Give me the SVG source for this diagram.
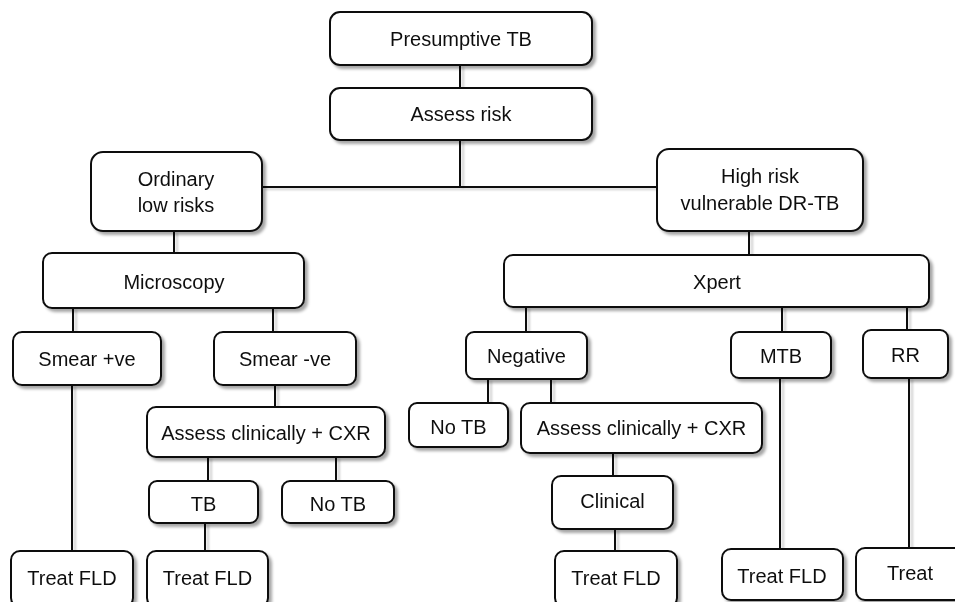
<svg xmlns="http://www.w3.org/2000/svg" width="955" height="602" viewBox="0 0 955 602">
  <defs>
    <filter id="sh" x="-10%" y="-10%" width="130%" height="140%">
      <feDropShadow dx="3" dy="3" stdDeviation="1.8" flood-color="#000" flood-opacity="0.35"/>
    </filter>
    <filter id="lsh" x="-50%" y="-5%" width="300%" height="120%">
      <feDropShadow dx="3" dy="2" stdDeviation="1.2" flood-color="#000" flood-opacity="0.2"/>
    </filter>
  </defs>
  <style>
    .box { fill: #fff; stroke: #111; stroke-width: 2; }
    .n { filter: url(#sh); }
    .t { font-family: "Liberation Sans", Arial, sans-serif; font-size: 20px; fill: #111; text-anchor: middle; }
    .c line { stroke: #111; stroke-width: 2; }
  </style>
  <rect width="955" height="602" fill="#fff"/>

  <g id="connectors" class="c" filter="url(#lsh)">
    <line x1="460" y1="65" x2="460" y2="88"/>
    <line x1="460" y1="140" x2="460" y2="188"/>
    <line x1="262" y1="187" x2="657" y2="187"/>
    <line x1="174" y1="231" x2="174" y2="253"/>
    <line x1="749" y1="231" x2="749" y2="255"/>
    <line x1="73" y1="308" x2="73" y2="332"/>
    <line x1="273" y1="308" x2="273" y2="332"/>
    <line x1="72" y1="385" x2="72" y2="551"/>
    <line x1="275" y1="385" x2="275" y2="407"/>
    <line x1="208" y1="457" x2="208" y2="481"/>
    <line x1="336" y1="457" x2="336" y2="481"/>
    <line x1="205" y1="523" x2="205" y2="551"/>
    <line x1="526" y1="307" x2="526" y2="332"/>
    <line x1="782" y1="307" x2="782" y2="332"/>
    <line x1="907" y1="307" x2="907" y2="330"/>
    <line x1="488" y1="379" x2="488" y2="403"/>
    <line x1="551" y1="379" x2="551" y2="403"/>
    <line x1="613" y1="453" x2="613" y2="476"/>
    <line x1="615" y1="529" x2="615" y2="551"/>
    <line x1="780" y1="378" x2="780" y2="549"/>
    <line x1="909" y1="378" x2="909" y2="548"/>
  </g>

  <g id="presumptive" class="n">
    <rect class="box" x="330" y="12" width="262" height="53" rx="10"/>
    <text class="t" x="461" y="46">Presumptive TB</text>
  </g>
  <g id="assess-risk" class="n">
    <rect class="box" x="330" y="88" width="262" height="52" rx="10"/>
    <text class="t" x="461" y="121">Assess risk</text>
  </g>
  <g id="ordinary" class="n">
    <rect class="box" x="91" y="152" width="171" height="79" rx="12"/>
    <text class="t" x="176" y="186">Ordinary</text>
    <text class="t" x="176" y="212">low risks</text>
  </g>
  <g id="high-risk" class="n">
    <rect class="box" x="657" y="149" width="206" height="82" rx="12"/>
    <text class="t" x="760" y="183">High risk</text>
    <text class="t" x="760" y="210">vulnerable DR-TB</text>
  </g>
  <g id="microscopy" class="n">
    <rect class="box" x="43" y="253" width="261" height="55" rx="9"/>
    <text class="t" x="174" y="289">Microscopy</text>
  </g>
  <g id="xpert" class="n">
    <rect class="box" x="504" y="255" width="425" height="52" rx="9"/>
    <text class="t" x="717" y="289">Xpert</text>
  </g>
  <g id="smear-pos" class="n">
    <rect class="box" x="13" y="332" width="148" height="53" rx="9"/>
    <text class="t" x="87" y="366">Smear +ve</text>
  </g>
  <g id="smear-neg" class="n">
    <rect class="box" x="214" y="332" width="142" height="53" rx="9"/>
    <text class="t" x="285" y="366">Smear -ve</text>
  </g>
  <g id="assess-clin-left" class="n">
    <rect class="box" x="147" y="407" width="238" height="50" rx="9"/>
    <text class="t" x="266" y="440">Assess clinically + CXR</text>
  </g>
  <g id="tb-left" class="n">
    <rect class="box" x="149" y="481" width="109" height="42" rx="8"/>
    <text class="t" x="203.5" y="511">TB</text>
  </g>
  <g id="notb-left" class="n">
    <rect class="box" x="282" y="481" width="112" height="42" rx="8"/>
    <text class="t" x="338" y="511">No TB</text>
  </g>
  <g id="treat-fld-1" class="n">
    <rect class="box" x="11" y="551" width="122" height="56" rx="9"/>
    <text class="t" x="72" y="585">Treat FLD</text>
  </g>
  <g id="treat-fld-2" class="n">
    <rect class="box" x="147" y="551" width="121" height="56" rx="9"/>
    <text class="t" x="207.5" y="585">Treat FLD</text>
  </g>
  <g id="negative" class="n">
    <rect class="box" x="466" y="332" width="121" height="47" rx="8"/>
    <text class="t" x="526.5" y="363">Negative</text>
  </g>
  <g id="mtb" class="n">
    <rect class="box" x="731" y="332" width="100" height="46" rx="8"/>
    <text class="t" x="781" y="363">MTB</text>
  </g>
  <g id="rr" class="n">
    <rect class="box" x="863" y="330" width="85" height="48" rx="8"/>
    <text class="t" x="905.5" y="362">RR</text>
  </g>
  <g id="notb-right" class="n">
    <rect class="box" x="409" y="403" width="99" height="44" rx="8"/>
    <text class="t" x="458.5" y="434">No TB</text>
  </g>
  <g id="assess-clin-right" class="n">
    <rect class="box" x="521" y="403" width="241" height="50" rx="9"/>
    <text class="t" x="641.5" y="435">Assess clinically + CXR</text>
  </g>
  <g id="clinical" class="n">
    <rect class="box" x="552" y="476" width="121" height="53" rx="9"/>
    <text class="t" x="612.5" y="508">Clinical</text>
  </g>
  <g id="treat-fld-3" class="n">
    <rect class="box" x="555" y="551" width="122" height="56" rx="9"/>
    <text class="t" x="616" y="585">Treat FLD</text>
  </g>
  <g id="treat-fld-4" class="n">
    <rect class="box" x="722" y="549" width="121" height="51" rx="9"/>
    <text class="t" x="782" y="583">Treat FLD</text>
  </g>
  <g id="treat" class="n">
    <rect class="box" x="856" y="548" width="112" height="52" rx="9"/>
    <text class="t" x="910" y="580">Treat</text>
  </g>
</svg>
